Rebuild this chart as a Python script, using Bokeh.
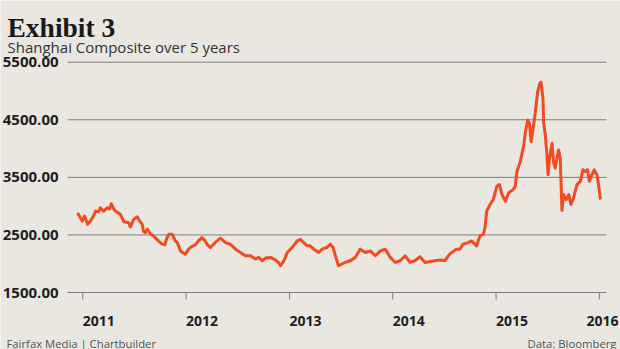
from datetime import datetime
from bokeh.plotting import figure
from bokeh.models import Range1d, Label, ColumnDataSource
from bokeh.core.properties import value
from bokeh.embed import file_html
from bokeh.resources import INLINE

# ---- data ----
dates = [
    "2010-12-13", "2010-12-20", "2010-12-30", "2011-01-07", "2011-01-18", "2011-01-28",
    "2011-02-08", "2011-02-15", "2011-02-25", "2011-03-04", "2011-03-16", "2011-03-28",
    "2011-04-05", "2011-04-12", "2011-04-19", "2011-04-26", "2011-05-07", "2011-05-14",
    "2011-05-26", "2011-06-04", "2011-06-12", "2011-06-18", "2011-06-30", "2011-07-12",
    "2011-07-21", "2011-07-30", "2011-08-04", "2011-08-10", "2011-08-17", "2011-08-28",
    "2011-09-08", "2011-09-21", "2011-10-02", "2011-10-09", "2011-10-18", "2011-10-24",
    "2011-11-01", "2011-11-13", "2011-11-24", "2011-12-01", "2011-12-12", "2011-12-19",
    "2011-12-30", "2012-01-10", "2012-01-22", "2012-02-03", "2012-02-14", "2012-02-26",
    "2012-03-09", "2012-03-16", "2012-03-27", "2012-04-13", "2012-05-01", "2012-05-12",
    "2012-05-19", "2012-06-06", "2012-06-24", "2012-07-11", "2012-07-29", "2012-08-16",
    "2012-09-02", "2012-09-14", "2012-09-26", "2012-10-08", "2012-10-26", "2012-11-12",
    "2012-11-23", "2012-11-30", "2012-12-12", "2012-12-24", "2013-01-10", "2013-01-28",
    "2013-02-08", "2013-02-20", "2013-03-04", "2013-03-15", "2013-03-27", "2013-04-14",
    "2013-04-26", "2013-05-13", "2013-05-25", "2013-06-04", "2013-06-12", "2013-06-23",
    "2013-07-05", "2013-07-17", "2013-08-04", "2013-08-21", "2013-09-08", "2013-09-26",
    "2013-10-13", "2013-10-31", "2013-11-18", "2013-12-05", "2013-12-23", "2014-01-10",
    "2014-01-27", "2014-02-14", "2014-03-03", "2014-03-20", "2014-04-07", "2014-04-25",
    "2014-05-13", "2014-05-30", "2014-06-17", "2014-07-04", "2014-07-21", "2014-08-14",
    "2014-08-26", "2014-09-06", "2014-09-24", "2014-10-06", "2014-10-18", "2014-10-24",
    "2014-11-05", "2014-11-17", "2014-11-23", "2014-11-29", "2014-12-11", "2014-12-22",
    "2015-01-04", "2015-01-13", "2015-01-22", "2015-02-03", "2015-02-14", "2015-03-02",
    "2015-03-10", "2015-03-16", "2015-03-28", "2015-04-09", "2015-04-15", "2015-04-23",
    "2015-04-29", "2015-05-05", "2015-05-14", "2015-05-20", "2015-05-28", "2015-06-04",
    "2015-06-09", "2015-06-16", "2015-06-18", "2015-06-24", "2015-06-30", "2015-07-04",
    "2015-07-09", "2015-07-18", "2015-07-23", "2015-07-29", "2015-08-10", "2015-08-16",
    "2015-08-22", "2015-08-28", "2015-09-06", "2015-09-15", "2015-09-23", "2015-10-02",
    "2015-10-14", "2015-10-26", "2015-11-04", "2015-11-12", "2015-11-20", "2015-11-27",
    "2015-12-06", "2015-12-14", "2015-12-24", "2015-12-30", "2016-01-05",
]
index_values = [
    2884, 2830, 2741, 2828, 2684, 2741,
    2830, 2914, 2900, 2971, 2914, 2971,
    2950, 3040, 2960, 2914, 2880, 2857,
    2730, 2720, 2712, 2640, 2770, 2815,
    2741, 2684, 2560, 2540, 2600, 2520,
    2480, 2420, 2367, 2340, 2328, 2430,
    2512, 2512, 2396, 2367, 2224, 2195,
    2167, 2253, 2300, 2330, 2396, 2454,
    2396, 2330, 2281, 2367, 2443, 2400,
    2367, 2339, 2253, 2195, 2138, 2138,
    2081, 2109, 2052, 2098, 2109, 2064,
    2020, 1965, 2052, 2195, 2281, 2396,
    2425, 2367, 2310, 2310, 2253, 2195,
    2253, 2281, 2339, 2281, 2138, 1965,
    1995, 2022, 2052, 2109, 2253, 2195,
    2224, 2138, 2224, 2253, 2109, 2022,
    2052, 2138, 2022, 2052, 2121, 2022,
    2040, 2052, 2064, 2052, 2167, 2253,
    2253, 2339, 2367, 2396, 2339, 2310,
    2483, 2512, 2626, 2914, 3029, 3115,
    3345, 3374, 3201, 3086, 3229, 3287,
    3345, 3603, 3776, 4063, 4293, 4494,
    4440, 4120, 4408, 4638, 4983, 5126,
    5155, 4867, 4465, 4236, 3891, 3546,
    3833, 4091, 3776, 3660, 3977, 3833,
    2926, 3201, 3115, 3201, 3029, 3143,
    3374, 3431, 3632, 3603, 3632, 3431,
    3546, 3632, 3546, 3345, 3115,
]
y_ticks = [1500, 2500, 3500, 4500, 5500]
year_ticks = ["2011", "2012", "2013", "2014", "2015", "2016"]

title_text = "Exhibit 3"
subtitle_text = "Shanghai Composite over 5 years"
source_left = "Fairfax Media | Chartbuilder"
source_right = "Data: Bloomberg"

# ---- styling / layout ----
BG = "#e9e7e0"
LINE = "#f24a21"
GRID = "#7d7d7d"
TXT = "#1e1e1e"
SANS = "Open Sans"
W, H = 620, 349

# plot area: gridlines span 2010-11-08 .. 2016-01-26; the frame covers the whole
# canvas so the texts around the plot can be drawn inside it
grid_x0 = datetime(2010, 11, 8)
grid_x1 = datetime(2016, 1, 26)
x_start = datetime(2010, 3, 16)
x_end = datetime(2016, 3, 16)
y_start, y_end = 510, 6572
px_per_unit = H / (y_end - y_start)

x_dates = [datetime.strptime(d, "%Y-%m-%d") for d in dates]
year_dt = [datetime(int(y), 1, 1) for y in year_ticks]

p = figure(
    width=W, height=H, x_axis_type="datetime",
    output_backend="svg", toolbar_location=None,
    x_range=Range1d(x_start, x_end), y_range=Range1d(y_start, y_end),
    min_border=0, background_fill_color=BG, border_fill_color=BG,
    x_axis_location=None, y_axis_location=None,
)
p.outline_line_color = None
p.grid.visible = False

# gridlines (the 1500 line doubles as the x axis line)
p.segment(x0=[grid_x0] * len(y_ticks), x1=[grid_x1] * len(y_ticks), y0=y_ticks, y1=y_ticks,
          line_color=GRID, line_width=1)

# year ticks below the base line
tick_len = 7 / px_per_unit
base = y_ticks[0]
p.segment(x0=year_dt, x1=year_dt, y0=[base] * len(year_dt), y1=[base - tick_len] * len(year_dt),
          line_color=GRID, line_width=1)

# y labels
p.text(x=[grid_x0] * len(y_ticks), y=y_ticks, text=[f"{v:.2f}" for v in y_ticks],
       x_offset=-9, text_align="right", text_baseline="middle",
       text_font=value(SANS), text_font_style="bold", text_font_size="15px", text_color=TXT)

# year labels, left-aligned at the ticks; the last one is kept inside the canvas
p.text(x=year_dt[:-1], y=[base] * (len(year_dt) - 1), text=year_ticks[:-1],
       x_offset=0, y_offset=28, text_align="left", text_baseline="alphabetic",
       text_font=value(SANS), text_font_style="bold", text_font_size="14px", text_color=TXT)
p.text(x=[x_end], y=[base], text=year_ticks[-1:],
       x_offset=-2, y_offset=28, text_align="right", text_baseline="alphabetic",
       text_font=value(SANS), text_font_style="bold", text_font_size="14px", text_color=TXT)

# the index line
src = ColumnDataSource(data=dict(x=x_dates, y=index_values))
p.line("x", "y", source=src, line_color=LINE, line_width=3, line_join="round")


def add_text(cx, cy, text, size, color, font, style="normal", align="left"):
    p.add_layout(Label(x=cx, y=H - cy, x_units="screen", y_units="screen",
                       text=text, text_font=font, text_font_size=size, text_font_style=style,
                       text_color=color, text_align=align, text_baseline="alphabetic"))


add_text(7, 26.7, title_text, "27.5px", "#1a1a1a", "Liberation Serif", style="bold")
add_text(7, 46.7, subtitle_text, "15px", "#333333", SANS)
add_text(6, 342.5, source_left, "11.3px", "#555555", SANS)
add_text(616, 342.5, source_right, "11.3px", "#555555", SANS, align="right")

open("out.html", "w").write(file_html(p, INLINE))
